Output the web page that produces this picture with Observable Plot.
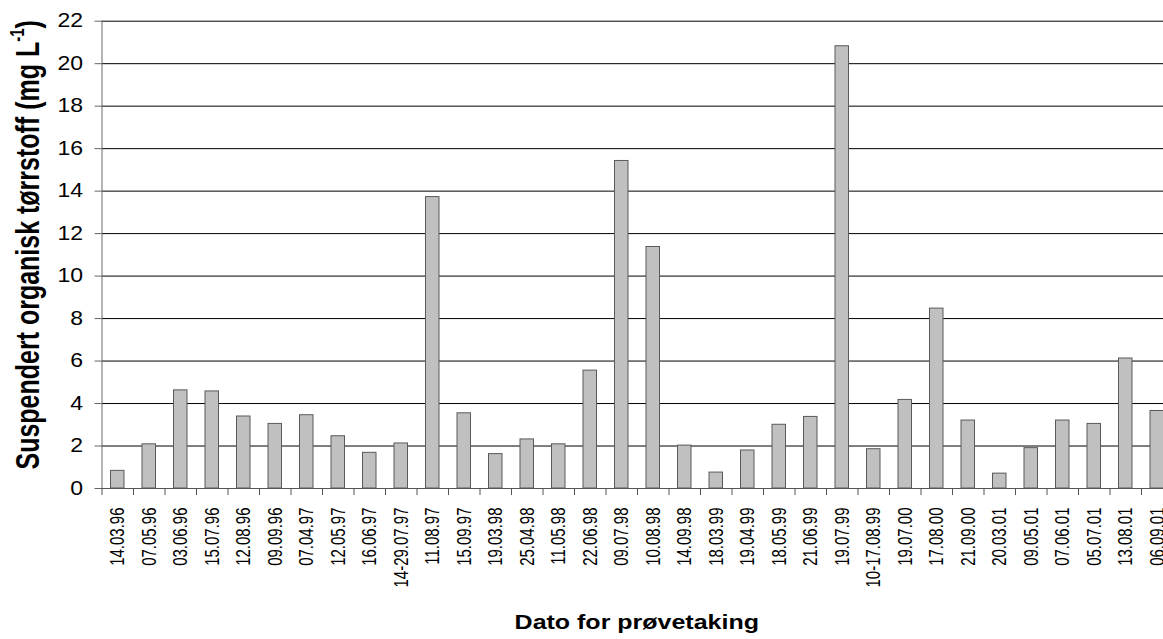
<!DOCTYPE html>
<html>
<head>
<meta charset="utf-8">
<script src="https://cdn.jsdelivr.net/npm/d3@7"></script>
<script src="https://cdn.jsdelivr.net/npm/@observablehq/plot@0.6"></script>
<style>
  html, body { margin: 0; padding: 0; background: white; overflow: hidden; }
  #chart { width: 1163px; height: 639px; }
</style>
</head>
<body>
<div id="chart"></div>
<script>
const dates = ["14.03.96","07.05.96","03.06.96","15.07.96","12.08.96","09.09.96","07.04.97","12.05.97","16.06.97","14-29.07.97","11.08.97","15.09.97","19.03.98","25.04.98","11.05.98","22.06.98","09.07.98","10.08.98","14.09.98","18.03.99","19.04.99","18.05.99","21.06.99","19.07.99","10-17.08.99","19.07.00","17.08.00","21.09.00","20.03.01","09.05.01","07.06.01","05.07.01","13.08.01","06.09.01"];
const values = [0.83,2.08,4.62,4.57,3.39,3.04,3.45,2.46,1.68,2.12,13.72,3.54,1.62,2.31,2.08,5.55,15.42,11.37,2.02,0.75,1.79,3.0,3.37,20.82,1.85,4.17,8.47,3.2,0.7,1.9,3.2,3.04,6.12,3.65];
const yTicks = [0,2,4,6,8,10,12,14,16,18,20,22];
const yTitle = "Suspendert organisk tørrstoff (mg L-1)";
const xTitle = "Dato for prøvetaking";

const data = dates.map((d, i) => ({date: d, value: values[i]}));

const W = 1163, H = 639;
const mL = 101.5, mT = 20.7, mB = 151;
const xRange = [mL, 1172.5];
const band = (xRange[1] - xRange[0]) / dates.length;

const chart = Plot.plot({
  width: W,
  height: H,
  marginLeft: mL,
  marginRight: 0,
  marginTop: mT,
  marginBottom: mB,
  style: {fontFamily: "'Liberation Sans', Arial, sans-serif", background: "white", color: "#000", overflow: "visible"},
  x: {type: "band", domain: dates, range: xRange, paddingInner: 0, paddingOuter: 0, round: false, label: null},
  y: {domain: [0, 22], label: null},
  marks: [
    Plot.ruleY(yTicks, {stroke: "#000", strokeWidth: 1}),
    Plot.barY(data, {x: "date", y: "value", fill: "#c0c0c0", stroke: "#5a5a5a", strokeWidth: 1, insetLeft: 9, insetRight: 9}),
    Plot.frame({anchor: "left", stroke: "#6a6a6a"}),
    Plot.ruleY([0], {stroke: "#555"}),
    Plot.axisY({ticks: yTicks, tickSize: 7, tickPadding: 12, fontSize: 19.5, stroke: "#666", label: null}),
    Plot.axisX({tickSize: 7, text: null, dx: -band / 2, stroke: "#555", label: null}),
    Plot.axisX({tickSize: 0, tickPadding: 19, tickRotate: -90, fontSize: 15, label: null}),
    Plot.text([yTitle], {frameAnchor: "left", textAnchor: "middle", rotate: -90, dx: -74, dy: -10, fontSize: 25, fontWeight: "bold", text: d => d}),
    Plot.text([xTitle], {frameAnchor: "bottom", textAnchor: "middle", dx: 4, dy: 140, fontSize: 20, fontWeight: "bold", text: d => d})
  ]
});

// superscript in y title
d3.select(chart).selectAll("text").each(function() {
  const el = d3.select(this);
  if (el.text() === yTitle) {
    el.text(null);
    el.append("tspan").text("Suspendert organisk tørrstoff (mg L");
    el.append("tspan").attr("font-size", "60%").attr("dy", "-0.75em").text("-1");
    el.append("tspan").attr("dy", "0.45em").text(")");
  }
});

// the reference is horizontally stretched: widen glyphs
function stretch(el, k) {
  const t = el.getAttribute("transform") || "";
  let px, py;
  const m = t.match(/^translate\(\s*([-\d.e]+)[ ,]+([-\d.e]+)\s*\)/);
  if (m) { px = +m[1]; py = +m[2]; }
  else { px = +(el.getAttribute("x") || 0); py = +(el.getAttribute("y") || 0); }
  el.setAttribute("transform", `translate(${px},${py}) scale(${k},1) translate(${-px},${-py}) ${t}`);
}
chart.querySelectorAll("text").forEach(el => {
  const rotated = /rotate/.test(el.getAttribute("transform") || "");
  const isXTitle = el.textContent === xTitle;
  stretch(el, rotated ? 1.32 : (isXTitle ? 1.25 : 1.18));
});

document.getElementById("chart").appendChild(chart);
</script>
</body>
</html>
